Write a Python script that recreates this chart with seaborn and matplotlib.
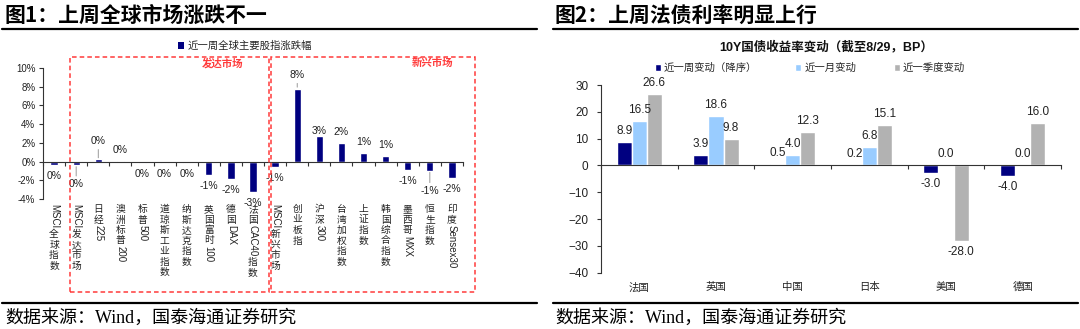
import re
import numpy as np
import pandas as pd
import matplotlib
matplotlib.use("Agg")
import matplotlib.pyplot as plt
import seaborn as sns
from matplotlib.patches import Rectangle, Patch
from matplotlib.lines import Line2D
from matplotlib.transforms import blended_transform_factory
from matplotlib.ticker import FuncFormatter

# ---------------- data ----------------
equity_names = ["MSCI全球指数", "MSCI发达市场", "日经225", "澳洲标普200", "标普500",
                "道琼斯工业指数", "纳斯达克指数", "英国富时100", "德国DAX", "法国CAC40指数",
                "MSCI新兴市场", "创业板指", "沪深300", "台湾加权指数", "上证指数",
                "韩国综合指数", "墨西哥MXX", "恒生指数", "印度Sensex30"]
equity_change = [-0.4, -0.4, 0.25, 0.05, -0.1, -0.15, -0.15, -1.4, -1.85, -3.3,
                 -0.55, 7.8, 2.75, 2.0, 0.9, 0.57, -0.85, -1.0, -1.8]
equity_series = "近一周全球主要股指涨跌幅"
group_names = ["发达市场", "新兴市场"]

countries = ["法国", "英国", "中国", "日本", "美国", "德国"]
week_chg = [8.9, 3.9, 0.5, 0.2, -3.0, -4.0]
month_chg = [16.5, 18.6, 4.0, 6.8, 0.0, 0.0]
quarter_chg = [26.6, 9.8, 12.3, 15.1, -28.0, 16.0]
bond_series = ["近一周变动（降序）", "近一月变动", "近一季度变动"]

title1 = "图1：上周全球市场涨跌不一"
title2 = "图2：上周法债利率明显上行"
chart2_title = "10Y国债收益率变动（截至8/29，BP）"
source = "数据来源：Wind，国泰海通证券研究"

# ---------------- style ----------------
NAVY = "#000080"
LBLUE = "#99CCFF"
GRAY = "#B2B2B2"
AXC = "#333333"
RED = "#FF3B3B"
CJK = "Noto Sans CJK SC"

sns.set_theme(style="ticks")
plt.rcParams["font.family"] = ["Liberation Sans", CJK]
plt.rcParams["axes.edgecolor"] = AXC
plt.rcParams["axes.linewidth"] = 0.8

W, H, DPI = 1080, 329, 100
fig = plt.figure(figsize=(W / DPI, H / DPI), dpi=DPI)
fig.patch.set_facecolor("white")


def fx(px):
    return px / W


def fy(py):
    return 1 - py / H


def px2pt(p):
    return p * 72.0 / DPI


# ---------------- figure headers / footers ----------------
for x0, t in [(5, title1), (555, title2)]:
    fig.text(fx(x0), fy(15), t, fontsize=15, fontweight="bold", family=[CJK],
             va="center", ha="left", color="black")
for x0, x1 in [(2, 537), (553, 1078)]:
    fig.add_artist(Line2D([fx(x0), fx(x1)], [fy(29), fy(29)], color="black", lw=1.6))
    fig.add_artist(Line2D([fx(x0), fx(x1)], [fy(303), fy(303)], color="black", lw=1.6))
for x0 in [5, 555]:
    fig.text(fx(x0), fy(318), source, fontsize=13, family=["Liberation Serif", CJK],
             va="center", ha="left", color="black")

# ---------------- left chart ----------------
ax1 = fig.add_axes([fx(43), fy(199), fx(420), 131 / H])
df1 = pd.DataFrame({"name": equity_names, "change": equity_change})
sns.barplot(data=df1, x="name", y="change", color=NAVY, saturation=1, width=0.33, ax=ax1)
ax1.set_xlim(-0.5, len(equity_names) - 0.5)
ax1.set_ylim(-4, 10)
ax1.set_yticks(np.arange(-4, 11, 2))
ax1.yaxis.set_major_formatter(FuncFormatter(lambda v, p: f"{v:.0f}%"))
ax1.set_xlabel("")
ax1.set_ylabel("")
for s in ["top", "right"]:
    ax1.spines[s].set_visible(False)
ax1.spines["bottom"].set_position(("data", 0))
ax1.tick_params(axis="x", which="major", length=0, labelbottom=False)
ax1.set_xticks(np.arange(-0.5, len(equity_names), 1), minor=True)
ax1.tick_params(axis="x", which="minor", length=3, direction="out", color=AXC, width=0.8)
ax1.tick_params(axis="y", length=3, direction="out", color=AXC, labelsize=7,
                pad=2.5, labelcolor="#222222", width=0.8)

# data labels (offsets from bar end, in pixels, + = above)
default_off = 11
label_off = {1: (-19, True), 2: (18, True), 11: (13.5, True), 12: (5, False), 17: (-20, True)}
bars = ax1.containers[0]
for i, (patch, v) in enumerate(zip(bars.patches, equity_change)):
    xc = patch.get_x() + patch.get_width() / 2
    lab = f"{int(round(v))}%"
    off, leader = label_off.get(i, (default_off if v >= 0 else -default_off, False))
    kw = {}
    if leader:
        kw["arrowprops"] = dict(arrowstyle="-", color="#888888", lw=0.6, shrinkA=0, shrinkB=1)
    ax1.annotate(lab, xy=(xc, v), xytext=(0, px2pt(off)), textcoords="offset points",
                 ha="center", va="center", fontsize=7.5, color="#222222", **kw)

# vertical category labels (CJK upright, Latin runs rotated)
fig.canvas.draw()
renderer = fig.canvas.get_renderer()
trans1 = blended_transform_factory(ax1.transData, ax1.transAxes)
ticks1 = ax1.get_xticks()
pitch = 10.5
for xt, name in zip(ticks1, equity_names):
    yoff = 5.0
    for run in re.findall(r"[A-Za-z0-9]+|.", name):
        if run.isascii():
            t = ax1.annotate(run, xy=(xt, 0), xycoords=trans1, xytext=(0, -px2pt(yoff)),
                             textcoords="offset points", rotation=-90, ha="center", va="top",
                             fontsize=7, color="#222222", annotation_clip=False)
            bb = t.get_window_extent(renderer)
            yoff += bb.height + 1.0
        else:
            ax1.annotate(run, xy=(xt, 0), xycoords=trans1, xytext=(0, -px2pt(yoff)),
                         textcoords="offset points", ha="center", va="top",
                         fontsize=7, color="#222222", family=[CJK], annotation_clip=False)
            yoff += pitch

# legend
ax1.legend(handles=[Patch(facecolor=NAVY, edgecolor="none")], labels=[equity_series],
           loc="center", bbox_to_anchor=(fx(245), fy(46)), bbox_transform=fig.transFigure,
           frameon=False, handlelength=0.6, handleheight=0.6, handletextpad=0.4,
           prop={"family": [CJK], "size": 7.5})

# dashed group boxes
for (x0, x1), gname, lx in zip([(70, 269), (271, 475)], group_names, [223, 432]):
    fig.add_artist(Rectangle((fx(x0), fy(292)), fx(x1 - x0), (292 - 57) / H,
                             transform=fig.transFigure, fill=False, ec=RED, lw=1.1,
                             ls=(0, (3, 2))))
    fig.text(fx(lx), fy(63), gname, color=RED, fontsize=7.5, fontweight="bold",
             family=[CJK], ha="center", va="center")

# ---------------- right chart ----------------
ax2 = fig.add_axes([fx(601), fy(272.7), fx(460), 187.7 / H])
df2 = pd.DataFrame({
    "country": countries * 3,
    "series": [bond_series[0]] * 6 + [bond_series[1]] * 6 + [bond_series[2]] * 6,
    "bp": week_chg + month_chg + quarter_chg,
})
sns.barplot(data=df2, x="country", y="bp", hue="series", hue_order=bond_series,
            palette=[NAVY, LBLUE, GRAY], saturation=1, width=0.59, ax=ax2)
ax2.set_xlim(-0.5, len(countries) - 0.5)
ax2.set_ylim(-40, 30)
ax2.set_yticks(np.arange(-40, 31, 10))
ax2.set_xlabel("")
ax2.set_ylabel("")
for s in ["top", "right"]:
    ax2.spines[s].set_visible(False)
ax2.spines["bottom"].set_position(("data", 0))
ax2.tick_params(axis="x", which="major", length=0, labelbottom=False)
ax2.set_xticks(np.arange(-0.5, len(countries), 1), minor=True)
ax2.tick_params(axis="x", which="minor", length=3, direction="out", color=AXC, width=0.8)
ax2.tick_params(axis="y", length=3, direction="out", color=AXC, labelsize=8.5,
                pad=6, labelcolor="#222222", width=0.8)

for cont in ax2.containers:
    ax2.bar_label(cont, fmt="%.1f", padding=px2pt(5), fontsize=8.5, color="#222222")

trans2 = blended_transform_factory(ax2.transData, ax2.transAxes)
for xt, c in zip(ax2.get_xticks(), countries):
    ax2.annotate(c, xy=(xt, 0), xycoords=trans2, xytext=(0, -px2pt(14.5)),
                 textcoords="offset points", ha="center", va="center", fontsize=7.5,
                 color="#222222", family=[CJK], annotation_clip=False)

handles, labels = ax2.get_legend_handles_labels()
ax2.legend(handles=handles, labels=labels, ncol=3, loc="center",
           bbox_to_anchor=(fx(810), fy(68)), bbox_transform=fig.transFigure, frameon=False,
           handlelength=0.6, handleheight=0.6, handletextpad=0.3, columnspacing=3.6,
           prop={"family": [CJK], "size": 7.5})

fig.text(fx(826), fy(47), chart2_title, fontsize=9, fontweight="bold",
         family=["Liberation Sans", CJK], ha="center", va="center", color="#111111")

fig.savefig("out.png", dpi=DPI, facecolor="white")
